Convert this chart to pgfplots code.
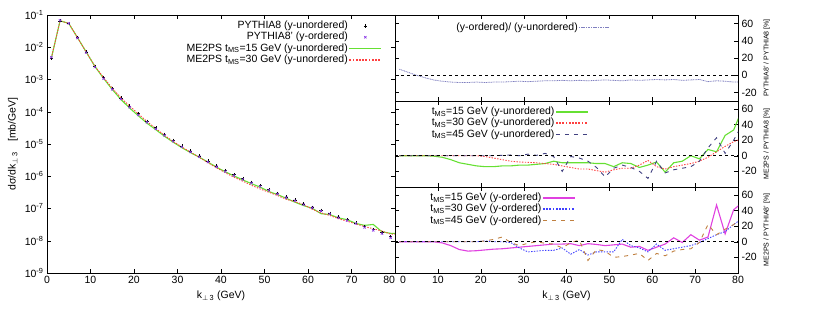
\documentclass[border=0pt]{standalone}
\usepackage{fontspec}
\setmainfont{Liberation Sans}
\usepackage{pgfplots}
\pgfplotsset{compat=1.18}
\definecolor{lgreen}{RGB}{102,224,51}
\definecolor{lred}{RGB}{255,64,64}
\definecolor{navyd}{RGB}{64,64,128}
\definecolor{magl}{RGB}{224,64,224}
\definecolor{blued}{RGB}{64,64,255}
\definecolor{brownd}{RGB}{192,128,64}
\definecolor{slate}{RGB}{128,128,192}
\definecolor{violetm}{RGB}{140,60,230}

\pgfplotstableread{
x p8 p8p me15 me30
1 4.6e-3 4.9e-3 4.6e-3 4.6e-3
3 6.6e-2 6.8e-2 6.6e-2 6.6e-2
5 5.5e-2 5.5e-2 5.5e-2 5.5e-2
7 2.0e-2 1.94e-2 2.0e-2 2.0e-2
9 7.2e-3 6.8e-3 7.16e-3 7.2e-3
11 2.6e-3 2.42e-3 2.55e-3 2.6e-3
13 1.15e-3 1.06e-3 1.09e-3 1.15e-3
15 5.4e-4 4.94e-4 4.9e-4 5.4e-4
17 2.7e-4 2.47e-4 2.4e-4 2.7e-4
19 1.5e-4 1.38e-4 1.3e-4 1.5e-4
21 8.7e-5 7.96e-5 7.5e-5 8.6e-5
23 5.1e-5 4.69e-5 4.4e-5 4.95e-5
25 3.2e-5 2.94e-5 2.8e-5 3.04e-5
27 2.0e-5 1.85e-5 1.74e-5 1.86e-5
29 1.3e-5 1.21e-5 1.14e-5 1.2e-5
31 8.8e-6 8.14e-6 7.7e-6 8.05e-6
33 6.1e-6 5.67e-6 5.4e-6 5.55e-6
35 4.3e-6 4.02e-6 3.9e-6 3.87e-6
37 2.95e-6 2.76e-6 2.75e-6 2.63e-6
39 2.1e-6 1.97e-6 1.9e-6 1.83e-6
41 1.5e-6 1.4e-6 1.37e-6 1.28e-6
43 1.12e-6 1.05e-6 1.02e-6 9.3e-7
45 8.5e-7 7.95e-7 7.7e-7 7.05e-7
47 6.5e-7 6.1e-7 5.9e-7 5.27e-7
49 5.1e-7 4.82e-7 4.6e-7 4.03e-7
51 3.9e-7 3.67e-7 3.35e-7 3.2e-7
53 3.0e-7 2.8e-7 2.7e-7 2.52e-7
55 2.3e-7 2.17e-7 2.07e-7 1.93e-7
57 1.85e-7 1.74e-7 1.57e-7 1.63e-7
59 1.4e-7 1.32e-7 1.23e-7 1.32e-7
61 1.1e-7 1.05e-7 1.01e-7 9.5e-8
63 8.8e-8 8.3e-8 6.9e-8 7.3e-8
65 7.1e-8 6.75e-8 6.5e-8 6.1e-8
67 5.5e-8 5.17e-8 5.1e-8 4.84e-8
69 4.5e-8 4.25e-8 4.5e-8 4.05e-8
71 3.6e-8 3.42e-8 3.45e-8 3.35e-8
73 2.8e-8 2.59e-8 3.0e-8 2.75e-8
75 2.25e-8 2.1e-8 3.2e-8 2.36e-8
77 1.8e-8 1.67e-8 1.9e-8 2.0e-8
79 1.35e-8 1.24e-8 1.7e-8 1.6e-8
81 1.3e-8 1.2e-8 1.7e-8 1.6e-8
}\spectrum

\pgfplotstableread{
x top mu15 mu30 mu45 mo15 mo30 mo45
1 7 0 0 0 0 0 0
3 3.5 0 0 0 0 0 0
5 0 0 0 0 0 0 0
7 -3 0 0 0 0 0 0
9 -5.5 -0.5 0 0 0 0 0
11 -7 -2 0 0 -1.5 0 0
13 -8 -5 0 0 -5 0 0
15 -8.5 -9 0 0 -10 0 0
17 -8.5 -11 0 0 -12 0 0
19 -8 -13 0 0 -11.5 0 0
21 -8.5 -14 -1 0 -10.5 1 1
23 -8 -14 -3 0 -9.5 0 3
25 -8 -13 -5 0.5 -9 0 6
27 -7.5 -13 -7 1 -8 -1 -1
29 -7 -12 -8 0 -7 -8 -5
31 -7.5 -12 -8.5 2 -6 -13 -2
33 -7 -11 -9 0.5 -5 -12 0
35 -6.5 -10 -10 3 -4 -11 -2
37 -6.5 -7 -11 -1 -3 -11 -3
39 -6 -9 -13 -20 -3 -8 -8
41 -6.5 -9 -15 -1 -2.5 -16 -1
43 -6 -9 -17 -3 -5 -10 2
45 -6.5 -9 -17 -7 -2.5 -17 -24
47 -6 -10 -19 -15 -3.5 -13 -10
49 -5.5 -10 -21 -27 -5 -13 -12
51 -6 -14 -18 -16 -4 -13 -20
53 -6.5 -9 -16 -12 -3 3 -19
55 -5.5 -10 -16 -15 -7 -5 -17
57 -6 -15 -12 -20 -6 -8 -15
59 -5.5 -12 -6 -29 -11 -13 -24
61 -5 -8 -14 -7 -7 -3 -15
63 -5.5 -21 -17 -22 -3 -11 -18
65 -5 -9 -14 -18 5 -9 -12
67 -6 -7 -12 -16 -1 -7 -10
69 -5.5 0 -10 -14 9 -5 -9
71 -5 -4 -7 -7 2 -1 -1
73 -7.5 8 -2 10 6 4 22
75 -6.5 5 5 23 47 9 9
77 -7 26 12 3 10 13 16
79 -8 33 18 20 41 22 22
81 -8 60 22 40 50 30 34
}\ratios

\pgfplotsset{
  every axis/.append style={font=\fontsize{10.5}{12}\selectfont},
  legend image code/.code={\draw[mark repeat=2,mark phase=2,#1] plot coordinates {(0pt,0pt) (16pt,0pt) (32pt,0pt)};},
  gleg/.style={legend cell align=right, legend plot pos=right,
    legend style={draw=none, fill=none, anchor=north east, row sep=0pt,
      nodes={inner sep=0.8pt, text height=7.5pt, text depth=2.2pt, font=\fontsize{10.5}{12}\selectfont}}},
  ratio/.style={scale only axis, width=343pt, height=86pt, xmin=0, xmax=80,
    xtick={0,10,...,80}, ytick={-20,0,20,40,60}, yticklabel pos=right,
    ylabel near ticks, /pgf/number format/assume math mode=true,
    ylabel style={font=\fontsize{7}{8}\selectfont},
    tick style={black}, major tick length=4pt, gleg},
  % dotted legend samples drawn as small filled dashes
  dotimg/.style={legend image code/.code={%
    \foreach \i in {0,3.2,...,30}{\fill[##1, draw=none] (\i pt,-0.8pt) rectangle ++(1.8pt,1.6pt);}}},
  fineimg/.style={legend image code/.code={%
    \foreach \i in {0,2.4,...,30}{\fill[##1, draw=none] (\i pt,-0.7pt) rectangle ++(1.5pt,1.4pt);}}},
  dashleg/.style={line width=1.2pt, dash pattern=on 4pt off 5pt},
  solidleg/.style={line width=1.4pt},
}

\begin{document}
\begin{tikzpicture}
\useasboundingbox (0pt,0pt) rectangle (830pt,320pt);

\begin{axis}[at={(47pt,47pt)}, anchor=south west, scale only axis,
  width=348pt, height=258pt, xmin=0, xmax=80, ymode=log, log basis y=10,
  ymin=1e-9, ymax=1e-1, xtick={0,10,...,80},
  xticklabels={0,10,20,30,40,50,60,70,\makebox[0pt][r]{80}},
  ytick={1e-9,1e-8,1e-7,1e-6,1e-5,1e-4,1e-3,1e-2,1e-1},
  yticklabels={10\textsuperscript{-9},10\textsuperscript{-8},10\textsuperscript{-7},10\textsuperscript{-6},10\textsuperscript{-5},10\textsuperscript{-4},10\textsuperscript{-3},10\textsuperscript{-2},10\textsuperscript{-1}},
  /pgf/number format/assume math mode=true,
  xlabel={k\textsubscript{$\perp$\,3} (GeV)},
  ylabel={dσ/dk\textsubscript{$\perp$\,3}\quad[mb/GeV]},
  tick style={black}, major tick length=4pt, minor tick length=2pt,
  gleg, legend style={at={(rel axis cs:0.972,0.988)}}]
\addplot[only marks, mark=+, mark size=1.6pt, mark options={line width=0.5pt}, black, forget plot] table[x=x,y=p8] {\spectrum};
\addplot[only marks, mark=x, mark size=1.6pt, mark options={line width=0.6pt}, violetm, forget plot] table[x=x,y=p8p] {\spectrum};
\addplot[color=lgreen, line width=1.1pt, forget plot] table[x=x,y=me15] {\spectrum};
\addplot[color=lred, line width=0.9pt, dash pattern=on 1.4pt off 1.4pt, forget plot] table[x=x,y=me30] {\spectrum};
\addlegendimage{only marks, mark=+, mark size=1.6pt, mark options={line width=0.6pt}, black}
\addlegendentry{PYTHIA8 (y-unordered)}
\addlegendimage{only marks, mark=x, mark size=1.6pt, mark options={line width=0.7pt}, violetm}
\addlegendentry{PYTHIA8’ (y-ordered)}
\addlegendimage{color=lgreen, solidleg}
\addlegendentry{ME2PS t\textsubscript{MS}=15 GeV (y-unordered)}
\addlegendimage{dotimg, color=lred}
\addlegendentry{ME2PS t\textsubscript{MS}=30 GeV (y-unordered)}
\end{axis}

\begin{axis}[at={(395pt,219pt)}, anchor=south west, ratio, ymin=-30, ymax=70,
  xticklabels={}, ylabel={PYTHIA8’ / PYTHIA8 [\%]},
  legend style={at={(rel axis cs:0.633,0.946)}}]
\addplot[color=slate, line width=0.8pt, dash pattern=on 1pt off 0.7pt, forget plot] table[x=x,y=top] {\ratios};
\addplot[black, dashed, line width=0.6pt, forget plot] coordinates {(0,0) (80,0)};
\addlegendimage{fineimg, color=slate}
\addlegendentry{(y-ordered)/ (y-unordered)}
\end{axis}

\begin{axis}[at={(395pt,133pt)}, anchor=south west, ratio, ymin=-40, ymax=70,
  xticklabels={}, ylabel={ME2PS / PYTHIA8 [\%]},
  legend style={at={(rel axis cs:0.574,0.965)}}]
\addplot[color=lgreen, line width=1.1pt, forget plot] table[x=x,y=mu15] {\ratios};
\addplot[color=lred, line width=0.9pt, dash pattern=on 1.4pt off 1.4pt, forget plot] table[x=x,y=mu30] {\ratios};
\addplot[color=navyd, line width=0.9pt, dash pattern=on 4pt off 5pt, forget plot] table[x=x,y=mu45] {\ratios};
\addplot[black, dashed, line width=0.6pt, forget plot] coordinates {(0,0) (80,0)};
\addlegendimage{color=lgreen, solidleg}
\addlegendentry{t\textsubscript{MS}=15 GeV (y-unordered)}
\addlegendimage{dotimg, color=lred}
\addlegendentry{t\textsubscript{MS}=30 GeV (y-unordered)}
\addlegendimage{color=navyd, dashleg}
\addlegendentry{t\textsubscript{MS}=45 GeV (y-unordered)}
\end{axis}

\begin{axis}[at={(395pt,47pt)}, anchor=south west, ratio, ymin=-40, ymax=70,
  xticklabels={\makebox[0pt][l]{\hspace{5pt}0},10,20,30,40,50,60,70,80},
  xlabel={k\textsubscript{$\perp$\,3} (GeV)}, ylabel={ME2PS / PYTHIA8’ [\%]},
  legend style={at={(rel axis cs:0.536,0.965)}}]
\addplot[color=magl, line width=1.1pt, forget plot] table[x=x,y=mo15] {\ratios};
\addplot[color=blued, line width=0.9pt, dash pattern=on 1.4pt off 1.4pt, forget plot] table[x=x,y=mo30] {\ratios};
\addplot[color=brownd, line width=0.9pt, dash pattern=on 4pt off 5pt, forget plot] table[x=x,y=mo45] {\ratios};
\addplot[black, dashed, line width=0.6pt, forget plot] coordinates {(0,0) (80,0)};
\addlegendimage{color=magl, solidleg}
\addlegendentry{t\textsubscript{MS}=15 GeV (y-ordered)}
\addlegendimage{dotimg, color=blued}
\addlegendentry{t\textsubscript{MS}=30 GeV (y-ordered)}
\addlegendimage{color=brownd, dashleg}
\addlegendentry{t\textsubscript{MS}=45 GeV (y-ordered)}
\end{axis}
\end{tikzpicture}
\end{document}
